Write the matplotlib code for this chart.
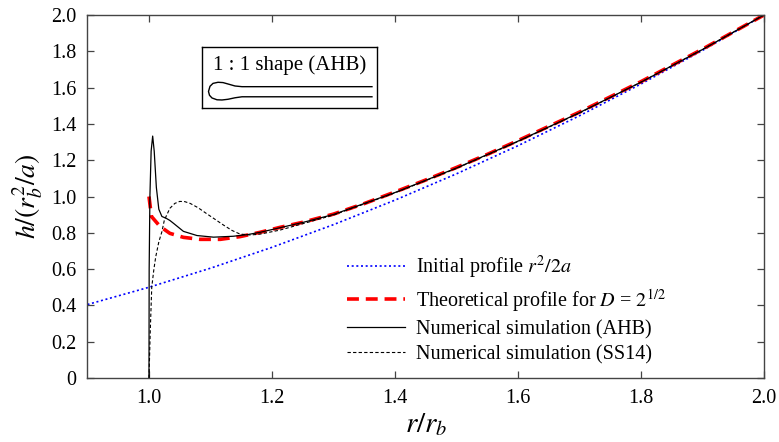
import numpy as np
import matplotlib
matplotlib.use('Agg')
from matplotlib import pyplot as plt

plt.rcParams['font.family'] = ['Liberation Serif', 'DejaVu Serif']
plt.rcParams['mathtext.fontset'] = 'stix'

# initial profile r^2/2a
r_init = [0.9, 1.0, 1.1, 1.2, 1.3, 1.4, 1.5, 1.6, 1.7, 1.8, 1.9, 2.0]
h_init = [0.405, 0.5, 0.605, 0.72, 0.845, 0.98, 1.125, 1.28, 1.445,
          1.62, 1.805, 2.0]

# theoretical profile, D = 2^(1/2)
r_theo = [1.0, 1.004, 1.018, 1.034, 1.056, 1.083, 1.116, 1.148, 1.181,
          1.213, 1.25, 1.3, 1.35, 1.4, 1.45, 1.5, 1.55, 1.6, 1.7, 1.8,
          1.9, 2.0]
h_theo = [1.0, 0.89, 0.835, 0.797, 0.775, 0.764, 0.764, 0.779, 0.803,
          0.83, 0.858, 0.903, 0.961, 1.025, 1.091, 1.16, 1.232, 1.308,
          1.465, 1.633, 1.812, 2.0]

# numerical simulation (AHB)
r_ahb = [1.0, 1.0003, 1.0015, 1.0035, 1.006, 1.0085, 1.012, 1.016, 1.021,
         1.028, 1.034, 1.04, 1.056, 1.078, 1.105, 1.137, 1.16, 1.181,
         1.213, 1.25, 1.3, 1.4, 1.5, 1.6, 1.7, 1.8, 1.9, 2.0]
h_ahb = [0.0, 0.6, 1.0, 1.25, 1.333, 1.25, 1.05, 0.93, 0.89, 0.88, 0.868,
         0.852, 0.808, 0.785, 0.776, 0.781, 0.79, 0.803, 0.828, 0.857,
         0.901, 1.022, 1.157, 1.305, 1.462, 1.63, 1.81, 2.0]

# numerical simulation (SS14)
r_ss = [1.0, 1.002, 1.0045, 1.008, 1.011, 1.016, 1.021, 1.025, 1.034,
        1.042, 1.05, 1.058, 1.067, 1.08, 1.094, 1.108, 1.121, 1.135,
        1.148, 1.165, 1.181, 1.213, 1.25, 1.3, 1.4, 1.5, 1.6, 1.7, 1.8,
        1.9, 2.0]
h_ss = [0.0, 0.25, 0.5, 0.6, 0.668, 0.75, 0.806, 0.87, 0.935, 0.962,
        0.973, 0.972, 0.962, 0.938, 0.905, 0.873, 0.843, 0.813, 0.793,
        0.788, 0.793, 0.815, 0.85, 0.898, 1.02, 1.155, 1.303, 1.46, 1.63,
        1.81, 2.0]

# 1:1 bubble outline for the inset (box pixel units)
shape_x = [170, 40, 33, 26, 21, 16, 11, 8, 6.5, 7.5, 10, 15, 20, 26, 33,
           40, 170]
shape_y = [39.7, 39.7, 39.0, 37.0, 35.6, 35.3, 36.4, 39.3, 44.5, 48.3,
           51.0, 52.8, 53.0, 52.3, 50.8, 49.8, 49.8]

x_ticks = [1.0, 1.2, 1.4, 1.6, 1.8, 2.0]
y_ticks = [0, 0.2, 0.4, 0.6, 0.8, 1.0, 1.2, 1.4, 1.6, 1.8, 2.0]
y_ticklabels = ['0', '0.2', '0.4', '0.6', '0.8', '1.0', '1.2', '1.4',
                '1.6', '1.8', '2.0']

fig = plt.figure(figsize=(7.79, 4.42), dpi=100)
ax = fig.add_axes([0.1123, 0.1448, 0.8684, 0.8212])

ax.plot(r_init, h_init, color='#0000ff', ls=(0, (1.2, 1.6)), lw=1.2,
        label=r'Initial profile $r^2/2a$')
ax.plot(r_theo, h_theo, color='#ff0000', ls=(0, (3.3, 1.9)), lw=2.6,
        label=r'Theoretical profile for $D$ = $2^{1/2}$')
ax.plot(r_ahb, h_ahb, color='black', ls='-', lw=0.9,
        label='Numerical simulation (AHB)')
ax.plot(r_ss, h_ss, color='black', ls=(0, (3, 2)), lw=0.8,
        label='Numerical simulation (SS14)')

ax.set_xlim(0.9, 2.0)
ax.set_ylim(0, 2.0)
ax.set_xticks(x_ticks)
ax.set_xticklabels(['%.1f' % t for t in x_ticks])
ax.set_yticks(y_ticks)
ax.set_yticklabels(y_ticklabels)
ax.tick_params(direction='in', top=True, right=True, length=5,
               width=0.9, color='#444444', labelsize=14.5, pad=8)
for s in ax.spines.values():
    s.set_color('#444444')
    s.set_linewidth(1.0)

ax.set_xlabel(r'$r/r_b$', fontsize=21, labelpad=2)
ax.set_ylabel(r'$h/(r_b^2/a)$', fontsize=20, labelpad=4)

leg = ax.legend(loc='center left', bbox_to_anchor=(0.369, 0.19),
                frameon=False, fontsize=14.5, borderpad=0,
                handlelength=2.85, handletextpad=0.55, labelspacing=0.3)

# inset with the bubble shape
ins = fig.add_axes([0.2593, 0.7557, 0.2246, 0.138])
ins.set_xlim(0, 175)
ins.set_ylim(61, 0)
ins.set_xticks([])
ins.set_yticks([])
for s in ins.spines.values():
    s.set_linewidth(1.0)
    s.set_color('black')
ins.plot(shape_x, shape_y, color='black', lw=1.0)
ins.text(87.5, 18, '1 : 1 shape (AHB)', ha='center', va='center',
         fontsize=15)

fig.savefig('out.png', dpi=100)
